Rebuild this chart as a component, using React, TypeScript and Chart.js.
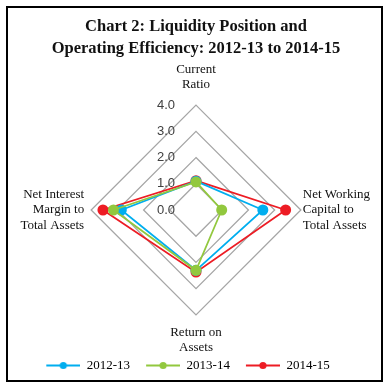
import React, { useEffect, useRef } from 'react';
import { Chart, registerables } from 'chart.js';

Chart.register(...registerables);

const titleLines = ['Chart 2: Liquidity Position and', 'Operating Efficiency: 2012-13 to 2014-15'];
const categories = [
  ['Current', 'Ratio'],
  ['Net Working', 'Capital to', 'Total Assets'],
  ['Return on', 'Assets'],
  ['Net Interest', 'Margin to', 'Total Assets'],
];
const seriesNames = ['2012-13', '2013-14', '2014-15'];
const values2012_13 = [1.1, 2.55, 2.3, 2.85];
const values2013_14 = [1.07, 0.98, 2.3, 3.15];
const values2014_15 = [1.12, 3.42, 2.37, 3.55];
const tickValues = [0, 1, 2, 3, 4];
const tickLabels = ['0.0', '1.0', '2.0', '3.0', '4.0'];

const seriesColors = ['#00aeef', '#92c83e', '#ed1c24'];
const seriesOrder = [1, 0, 2];
const labelPadding = [13, 2, 10, 7];
const LEG_DX = -13;
const LEG_DY = -4.5;

function makeLegendImage(color: string) {
  const c = document.createElement('canvas');
  c.width = 44;
  c.height = 9;
  const g = c.getContext('2d')!;
  g.strokeStyle = color;
  g.lineWidth = 2;
  g.beginPath();
  g.moveTo(10, 4.5);
  g.lineTo(44, 4.5);
  g.stroke();
  g.fillStyle = color;
  g.beginPath();
  g.arc(27, 4.5, 3.6, 0, Math.PI * 2);
  g.fill();
  return c;
}

const tickPlugin = {
  id: 'tickLabelsLeft',
  beforeDatasetsDraw(chart: any) {
    const s = chart.scales.r;
    const ctx = chart.ctx;
    ctx.save();
    ctx.font = '13px "Liberation Sans", sans-serif';
    ctx.fillStyle = '#404040';
    ctx.textAlign = 'right';
    ctx.textBaseline = 'middle';
    tickValues.forEach((v, i) => {
      const d = s.getDistanceFromCenterForValue(v);
      ctx.fillText(tickLabels[i], s.xCenter - 21, s.yCenter - d);
    });
    ctx.restore();
  },
};

const legendShift = {
  id: 'legendShift',
  afterLayout(chart: any) {
    const lg = chart.legend;
    if (!lg) return;
    lg.left += LEG_DX;
    lg.right += LEG_DX;
    lg.top += LEG_DY;
    lg.bottom += LEG_DY;
  },
};

export default function App() {
  const ref = useRef<HTMLCanvasElement>(null);
  useEffect(() => {
    if (!ref.current) return;
    const seriesValues = [values2012_13, values2013_14, values2014_15];
    const images = seriesColors.map(makeLegendImage);
    const chart = new Chart(ref.current, {
      type: 'radar',
      data: {
        labels: categories,
        datasets: seriesNames.map((name, i) => ({
          label: name,
          data: seriesValues[i],
          borderColor: seriesColors[i],
          backgroundColor: seriesColors[i],
          pointBackgroundColor: seriesColors[i],
          pointBorderColor: seriesColors[i],
          borderWidth: 1.75,
          pointRadius: 5.5,
          pointBorderWidth: 0,
          fill: false,
          order: seriesOrder[i],
        })),
      },
      options: {
        responsive: false,
        animation: false,
        layout: { padding: { left: 18, right: 14, top: 8, bottom: 1.5 } },
        scales: {
          r: {
            min: 0,
            max: 4,
            ticks: { stepSize: 1, display: false },
            grid: { color: '#a6a6a6', lineWidth: 1.3, circular: false },
            angleLines: { display: false },
            pointLabels: {
              color: '#111',
              font: { family: '"Liberation Serif", serif', size: 13, lineHeight: 1.16 },
              padding: (ctx: any) => labelPadding[ctx.index],
            },
          },
        },
        plugins: {
          title: {
            display: true,
            text: titleLines,
            color: '#111',
            font: { family: '"Liberation Serif", serif', size: 16.5, weight: 'bold', lineHeight: 22 / 16.5 },
            padding: { top: 8, bottom: 1 },
          },
          legend: {
            position: 'bottom',
            labels: {
              usePointStyle: true,
              pointStyleWidth: 44,
              padding: 6,
              color: '#000',
              font: { family: '"Liberation Serif", serif', size: 13 },
              generateLabels: () =>
                seriesNames.map((name, i) => ({
                  text: name,
                  fillStyle: seriesColors[i],
                  strokeStyle: seriesColors[i],
                  lineWidth: 0,
                  pointStyle: images[i],
                  hidden: false,
                  datasetIndex: i,
                  fontColor: '#000',
                })),
            },
          },
          tooltip: { enabled: false },
        },
      },
      plugins: [tickPlugin, legendShift],
    } as any);
    return () => chart.destroy();
  }, []);
  return (
    <div style={{ position: 'fixed', left: 0, top: 0, width: 388, height: 388, background: '#fff' }}>
      <canvas ref={ref} width={388} height={388} style={{ position: 'absolute', left: 0, top: 0 }} />
      <div
        style={{
          position: 'absolute',
          left: 6,
          top: 6,
          width: 377,
          height: 376,
          border: '2px solid #000',
          boxSizing: 'border-box',
          pointerEvents: 'none',
        }}
      />
    </div>
  );
}
